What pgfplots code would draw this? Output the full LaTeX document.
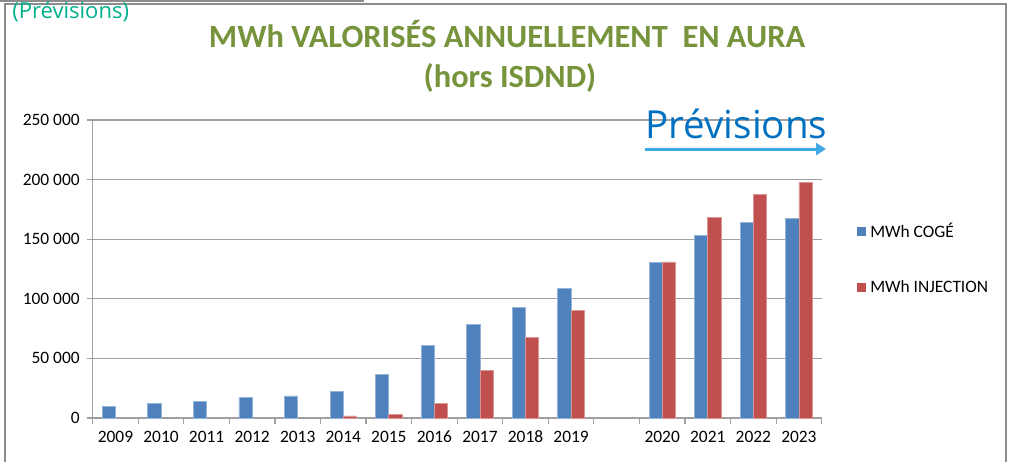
\documentclass[border=0pt]{standalone}
\usepackage{pgfplots}
\pgfplotsset{compat=1.18}
\usepackage{fontspec}
\setmainfont{Carlito}
\newfontfamily\notefont{Open Sans}
\usetikzlibrary{arrows.meta}

\definecolor{coge}{RGB}{79,129,189}
\definecolor{inj}{RGB}{192,80,77}
\definecolor{titlegreen}{RGB}{119,147,60}
\definecolor{prevblue}{RGB}{0,112,192}
\definecolor{arrowblue}{RGB}{65,170,230}
\definecolor{tealtxt}{RGB}{0,176,140}
\definecolor{gridgray}{RGB}{160,160,160}

\begin{document}
\begin{tikzpicture}
\useasboundingbox (0,0) rectangle (504.5pt,231pt);

% frames of the screenshot
\draw[gray!90, line width=0.8pt] (0,230.6pt) -- (181.5pt,230.6pt) -- (181.5pt,231pt);
\draw[gray!90, line width=0.8pt] (2.5pt,0) -- (2.5pt,229pt) -- (503pt,229pt) -- (503pt,0);

\begin{axis}[
    at={(46.35pt,22pt)}, anchor=south west,
    scale only axis,
    width=364.5pt, height=149pt,
    ybar=0pt, bar width=0.29,
    xmin=-0.5, xmax=15.5,
    ymin=0, ymax=250000,
    ytick={0,50000,100000,150000,200000,250000},
    yticklabels={0,50 000,100 000,150 000,200 000,250 000},
    xtick={-0.5,0.5,...,15.5},
    xticklabels={},
    extra x ticks={0,1,2,3,4,5,6,7,8,9,10,12,13,14,15},
    extra x tick labels={2009,2010,2011,2012,2013,2014,2015,2016,2017,2018,2019,2020,2021,2022,2023},
    extra x tick style={tick style={draw=none}},
    tick align=outside,
    major tick length=3pt,
    tick style={gridgray, line width=0.6pt},
    axis x line*=bottom, axis y line*=left,
    axis line style={gridgray, line width=0.6pt},
    ymajorgrids, grid style={gridgray, line width=0.6pt},
    ticklabel style={font=\fontsize{8.7}{10}\selectfont},
    scaled y ticks=false,
    clip=false,
    legend style={at={(axis description cs:1.04,0.534)}, anchor=west,
        draw=none, fill=none, font=\fontsize{8.7}{10}\selectfont,
        row sep=16pt},
    legend cell align=left,
    legend image code/.code={\fill[#1,draw=none] (0pt,-2.25pt) rectangle (4.5pt,2.25pt);},
]
\addplot[fill=coge, draw=coge!60!white, line width=0.4pt] coordinates {
    (0,10000)(1,12000)(2,14000)(3,17000)(4,18500)(5,22600)(6,36600)
    (7,60500)(8,78600)(9,92500)(10,108800)
    (12,130300)(13,152900)(14,163900)(15,167500)
};
\addplot[fill=inj, draw=inj!60!white, line width=0.4pt] coordinates {
    (5,1700)(6,3100)(7,12300)(8,40000)(9,67700)(10,90300)
    (12,130900)(13,168300)(14,187900)(15,197400)
};
\legend{MWh COGÉ, MWh INJECTION}
\end{axis}

% titles and notes
\node[anchor=base, inner sep=0, text=titlegreen, font=\fontsize{16.2}{19}\selectfont\bfseries]
    at (253.5pt,207.5pt) {MWh VALORISÉS ANNUELLEMENT\ \ EN AURA};
\node[anchor=base, inner sep=0, text=titlegreen, font=\fontsize{16.2}{19}\selectfont\bfseries]
    at (255pt,187pt) {(hors ISDND)};
\node[anchor=base west, inner sep=0, text=prevblue, font=\notefont\fontsize{19.3}{23}\selectfont]
    at (322.5pt,161.5pt) {Prévisions};
\draw[arrowblue, line width=1.5pt, -{Triangle[length=5pt,width=6pt]}] (322.5pt,156.5pt) -- (413pt,156.5pt);
\node[anchor=base west, inner sep=0, text=tealtxt, font=\notefont\fontsize{11}{13}\selectfont]
    at (6pt,222pt) {(Prévisions)};
\end{tikzpicture}
\end{document}
